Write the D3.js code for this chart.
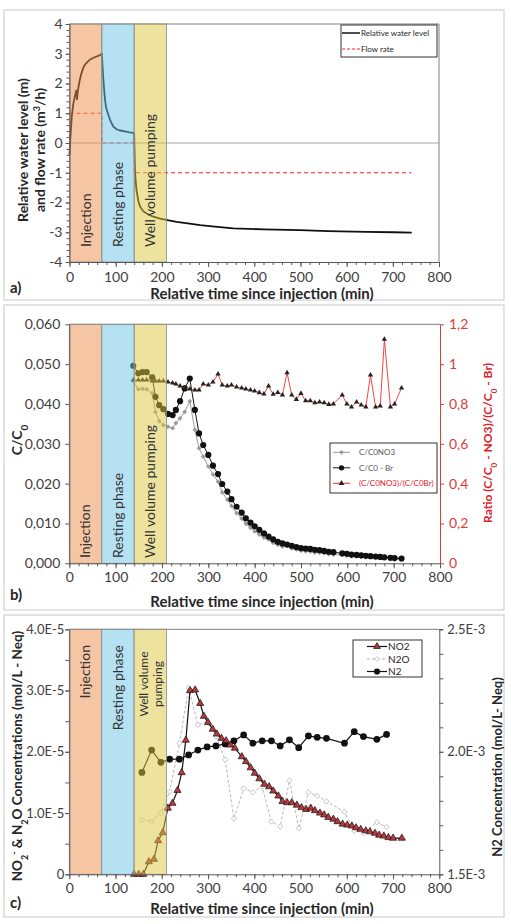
<!DOCTYPE html>
<html lang="en">
<head>
<meta charset="utf-8" />
<title>Push-pull test</title>
<script src="https://cdnjs.cloudflare.com/ajax/libs/d3/7.8.5/d3.min.js"></script>
<style>
  body { margin: 0; background: #fff; }
  svg text { font-family: Lato, "Open Sans", sans-serif; fill: #262626; }
  .tick text { font-size: 14px; fill: #404040; }
  .tick line { stroke: #595959; }
  .domain { stroke: #595959; }
  .title { font-weight: bold; font-size: 13px; }
  .phase { font-size: 14px; fill: #333; }
  .legend text { font-size: 8px; }
</style>
</head>
<body>
<script>
const width = 511;
const height = 924;

// phases of the test (min)
const phaseNames = ["Injection", "Resting phase", "Well volume pumping"];
const phaseStart = [0, 70, 140];
const phaseEnd = [70, 140, 210];
const phaseColors = ["#ee8d4a", "#6cc3e8", "#dcc63e"];

const xTicks = [0, 100, 200, 300, 400, 500, 600, 700, 800];

// a) water level and flow rate
const levelTime = [0, 2, 5, 8, 12, 15, 16, 18, 22, 26, 31, 36, 44, 50, 56, 62, 66, 70, 73, 76, 79, 84, 88, 95, 102, 110, 120, 130, 138, 140, 142, 145, 149, 153, 160, 167, 180, 196, 215, 232, 260, 283, 320, 355, 420, 499, 560, 643, 700, 741];
const levelValue = [-0.4, 0.2, 0.9, 1.3, 1.6, 1.78, 1.45, 1.75, 2.1, 2.35, 2.57, 2.68, 2.8, 2.85, 2.89, 2.93, 2.96, 3.0, 2.2, 1.6, 1.2, 0.95, 0.77, 0.55, 0.46, 0.42, 0.39, 0.36, 0.34, 0.3, -1.02, -1.58, -1.95, -2.14, -2.3, -2.37, -2.47, -2.54, -2.6, -2.65, -2.71, -2.76, -2.82, -2.87, -2.9, -2.93, -2.96, -2.99, -3.0, -3.01];
const flowTime = [0, 70, 70, 140, 140, 740];
const flowValue = [1, 1, 0, 0, -1, -1];
const aYTicks = [-4, -3, -2, -1, 0, 1, 2, 3, 4];
const aYLabels = ["-4", "-3", "-2", "-1", "0", "1", "2", "3", "4"];

// b) breakthrough curves
const bTime = [138, 149, 158, 167, 179, 186, 194, 203, 213, 223, 230, 239, 249, 260, 271, 280, 289, 300, 310, 321, 330, 341, 350, 361, 372, 381, 391, 400, 410, 420, 430, 440, 450, 460, 470, 480, 490, 500, 510, 520, 530, 540, 550, 560, 570, 589, 599, 609, 620, 630, 640, 650, 661, 671, 680, 693, 702, 717];
const brValue = [0.0496, 0.0477, 0.0480, 0.0480, 0.0467, 0.0418, 0.0397, 0.0387, 0.0375, 0.0372, 0.0385, 0.0407, 0.0439, 0.0464, 0.0385, 0.0326, 0.0297, 0.0272, 0.0245, 0.0224, 0.0199, 0.0180, 0.0161, 0.0142, 0.0127, 0.0113, 0.0102, 0.0093, 0.0084, 0.0075, 0.0067, 0.0060, 0.0054, 0.0050, 0.0047, 0.0044, 0.0041, 0.0038, 0.0037, 0.0036, 0.0034, 0.0033, 0.0031, 0.0029, 0.0028, 0.0025, 0.0024, 0.0022, 0.0021, 0.0020, 0.0019, 0.0018, 0.0017, 0.0016, 0.0015, 0.0014, 0.0013, 0.0012];
const no3Value = [0.0458, 0.0437, 0.0438, 0.0437, 0.0427, 0.0380, 0.0357, 0.0347, 0.0343, 0.0339, 0.0352, 0.0364, 0.0380, 0.0407, 0.0335, 0.0289, 0.0268, 0.0243, 0.0223, 0.0205, 0.0178, 0.0160, 0.0144, 0.0126, 0.0112, 0.0099, 0.0089, 0.0080, 0.0072, 0.0064, 0.0060, 0.0051, 0.0046, 0.0042, 0.0045, 0.0037, 0.0034, 0.0032, 0.0030, 0.0029, 0.0027, 0.0027, 0.0025, 0.0023, 0.0022, 0.0021, 0.0019, 0.0017, 0.0017, 0.0016, 0.0015, 0.0017, 0.0013, 0.0013, 0.0017, 0.0011, 0.0010, 0.0011];
const ratioValue = [0.92, 0.92, 0.92, 0.92, 0.915, 0.915, 0.915, 0.915, 0.91, 0.905, 0.90, 0.89, 0.88, 0.875, 0.87, 0.87, 0.90, 0.895, 0.91, 0.95, 0.895, 0.89, 0.895, 0.885, 0.88, 0.875, 0.87, 0.865, 0.857, 0.85, 0.89, 0.849, 0.858, 0.845, 0.957, 0.845, 0.823, 0.853, 0.816, 0.816, 0.806, 0.81, 0.806, 0.798, 0.80, 0.845, 0.80, 0.785, 0.81, 0.795, 0.785, 0.945, 0.785, 0.79, 1.125, 0.785, 0.80, 0.88];
const bLeftTicks = [0, 0.01, 0.02, 0.03, 0.04, 0.05, 0.06];
const bLeftLabels = ["0,000", "0,010", "0,020", "0,030", "0,040", "0,050", "0,060"];
const bRightTicks = [0, 0.2, 0.4, 0.6, 0.8, 1, 1.2];
const bRightLabels = ["0", "0,2", "0,4", "0,6", "0,8", "1", "1,2"];

// c) nitrogen species
const no2Time = [140, 150, 160, 172, 183, 192, 202, 213, 223, 234, 243, 252, 261, 272, 283, 291, 300, 310, 319, 329, 339, 348, 358, 373, 382, 392, 401, 411, 422, 432, 441, 452, 461, 471, 481, 492, 502, 512, 522, 531, 542, 551, 560, 571, 580, 591, 601, 611, 620, 630, 641, 650, 661, 670, 680, 690, 700, 719];
const no2Value = [0, 0, 0, 2.06e-6, 2.45e-6, 5.5e-6, 6.8e-6, 1.08e-5, 1.16e-5, 1.37e-5, 1.66e-5, 2.19e-5, 3.0e-5, 3.01e-5, 2.79e-5, 2.58e-5, 2.48e-5, 2.37e-5, 2.29e-5, 2.22e-5, 2.18e-5, 2.11e-5, 2.06e-5, 1.92e-5, 1.84e-5, 1.74e-5, 1.65e-5, 1.56e-5, 1.47e-5, 1.43e-5, 1.36e-5, 1.28e-5, 1.19e-5, 1.17e-5, 1.17e-5, 1.13e-5, 1.09e-5, 1.06e-5, 1.08e-5, 1.04e-5, 1.0e-5, 9.7e-6, 9.3e-6, 9.0e-6, 8.6e-6, 8.2e-6, 8.05e-6, 7.9e-6, 7.6e-6, 7.35e-6, 7.1e-6, 6.95e-6, 6.7e-6, 6.4e-6, 6.25e-6, 6.0e-6, 5.9e-6, 5.9e-6];
const gasTime = [157, 178, 198, 217, 238, 258, 278, 298, 317, 337, 356, 377, 397, 417, 437, 456, 476, 496, 517, 536, 556, 595, 616, 636, 665, 686];
const n2oValue = [8.9e-6, 8.6e-6, 1.0e-5, 1.35e-5, 2.14e-5, 3.04e-5, 2.44e-5, 2.48e-5, 2.25e-5, 1.87e-5, 9.1e-6, 1.4e-5, 1.34e-5, 1.43e-5, 8.6e-6, 7.8e-6, 1.53e-5, 7.5e-6, 1.34e-5, 1.28e-5, 1.19e-5, 1.02e-5, 7.1e-6, 6.7e-6, 8.5e-6, 7.7e-6];
const n2Value = [1.916e-3, 2.007e-3, 1.957e-3, 1.97e-3, 1.97e-3, 1.987e-3, 2.007e-3, 2.02e-3, 2.024e-3, 2.032e-3, 2.045e-3, 2.069e-3, 2.035e-3, 2.045e-3, 2.045e-3, 2.024e-3, 2.049e-3, 2.017e-3, 2.065e-3, 2.059e-3, 2.055e-3, 2.035e-3, 2.082e-3, 2.062e-3, 2.051e-3, 2.071e-3];
const cLeftTicks = [0, 1e-5, 2e-5, 3e-5, 4e-5];
const cLeftLabels = ["0", "1.0E-5", "2.0E-5", "3.0E-5", "4.0E-5"];
const cRightTicks = [1.5e-3, 2.0e-3, 2.5e-3];
const cRightLabels = ["1.5E-3", "2.0E-3", "2.5E-3"];

const svg = d3.select("body").append("svg")
  .attr("width", width)
  .attr("height", height)
  .attr("viewBox", [0, 0, width, height]);

// panel frames
[[4, 10, 500, 290], [4, 305, 500, 305], [4, 615, 500, 302]].forEach(([x, y, w, h]) => {
  svg.append("rect").attr("x", x).attr("y", y).attr("width", w).attr("height", h)
    .attr("fill", "#fff").attr("stroke", "#d0d0d0").attr("stroke-width", 1.2);
});

function drawSeries(g, times, values, x, y, o) {
  const pts = d3.zip(times, values);
  g.append("path").datum(pts)
    .attr("fill", "none")
    .attr("stroke", o.stroke)
    .attr("stroke-width", o.width || 1)
    .attr("stroke-dasharray", o.dash || null)
    .attr("d", d3.line().x(d => x(d[0])).y(d => y(d[1])));
  if (o.symbol) {
    g.append("g").selectAll("path").data(pts).join("path")
      .attr("transform", d => `translate(${x(d[0])},${y(d[1])})${o.rotate ? " rotate(45)" : ""}`)
      .attr("d", d3.symbol(o.symbol, o.size))
      .attr("fill", o.fill)
      .attr("stroke", o.markerStroke || "none")
      .attr("stroke-width", 0.7);
  }
}

function drawPhases(g, x, top, bottom) {
  g.append("g").selectAll("rect").data(d3.zip(phaseStart, phaseEnd, phaseColors)).join("rect")
    .attr("x", d => x(d[0]))
    .attr("y", top)
    .attr("width", d => x(d[1]) - x(d[0]))
    .attr("height", bottom - top)
    .attr("fill", d => d[2])
    .attr("fill-opacity", 0.5)
    .attr("stroke", "#8c8c8c")
    .attr("stroke-width", 0.8);
}

function xAxis(g, x, y, pad) {
  g.append("g").attr("transform", `translate(0,${y})`)
    .call(d3.axisBottom(x).tickValues(d3.range(0, 801, 20)).tickSize(3).tickFormat(""))
    .call(a => a.select(".domain").remove());
  g.append("g").attr("transform", `translate(0,${y})`)
    .call(d3.axisBottom(x).tickValues(xTicks).tickSize(5).tickSizeOuter(0).tickPadding(pad));
}

function vText(g, x, y, anchor, cls) {
  return g.append("text")
    .attr("class", cls)
    .attr("transform", `translate(${x},${y}) rotate(-90)`)
    .attr("text-anchor", anchor)
    .attr("dy", "0.35em");
}

function xTitle(g, y, letter, ly) {
  g.append("text").attr("class", "title").attr("x", 262).attr("y", y).attr("dy", "0.35em")
    .attr("text-anchor", "middle").style("font-size", "15px").text("Relative time since injection (min)");
  g.append("text").attr("class", "title").attr("x", 10).attr("y", ly).attr("dy", "0.35em")
    .style("font-size", "15px").text(letter);
}

// ---------- a) ----------
{
  const g = svg.append("g");
  const x = d3.scaleLinear([0, 800], [69.5, 439]);
  const y = d3.scaleLinear([-4, 4], [262, 24]);

  g.append("line").attr("x1", x(0)).attr("x2", x(800)).attr("y1", y(0)).attr("y2", y(0))
    .attr("stroke", "#a6a6a6");
  g.append("path").attr("d", `M${x(0)},${y(4)}H${x(800)}V${y(-4)}`)
    .attr("fill", "none").attr("stroke", "#7f7f7f");

  drawSeries(g, flowTime, flowValue, x, y, { stroke: "#ff2020", dash: "4,3", width: 1.2 });
  drawSeries(g, levelTime, levelValue, x, y, { stroke: "#111", width: 1.8 });
  drawPhases(g, x, y(4), y(-4));

  g.append("g").attr("transform", `translate(${x(0)},0)`)
    .call(d3.axisLeft(y).tickValues(d3.range(-4, 4.01, 0.2)).tickSize(3).tickFormat(""))
    .call(a => a.select(".domain").remove());
  g.append("g").attr("transform", `translate(${x(0)},0)`)
    .call(d3.axisLeft(y).tickValues(aYTicks).tickFormat((d, i) => aYLabels[i]).tickSize(4).tickSizeOuter(0).tickPadding(3));
  xAxis(g, x, y(-4), 5);

  phaseNames.forEach((n, i) => {
    vText(g, x((phaseStart[i] + phaseEnd[i]) / 2), 247, "start", "phase").text(n);
  });

  const t = vText(g, 31, 150, "middle", "title").attr("dy", null).style("font-size", "14px");
  t.append("tspan").attr("x", 0).attr("dy", "-0.2em").text("Relative water level (m)");
  const t2 = t.append("tspan").attr("x", 0).attr("dy", "1.2em").text("and flow rate (m");
  t2.append("tspan").attr("baseline-shift", "super").style("font-size", "9px").text("3");
  t.append("tspan").text("/h)");

  xTitle(g, 294, "a)", 288);

  const lg = g.append("g").attr("class", "legend");
  lg.append("rect").attr("x", 341).attr("y", 25).attr("width", 96).attr("height", 32)
    .attr("fill", "#fff").attr("stroke", "#333");
  lg.append("line").attr("x1", 342).attr("x2", 360).attr("y1", 33).attr("y2", 33).attr("stroke", "#111").attr("stroke-width", 1.5);
  lg.append("line").attr("x1", 342).attr("x2", 360).attr("y1", 49).attr("y2", 49).attr("stroke", "#ff2020").attr("stroke-dasharray", "3,2");
  lg.append("text").attr("x", 361).attr("y", 33).attr("dy", "0.35em").text("Relative water level");
  lg.append("text").attr("x", 361).attr("y", 49).attr("dy", "0.35em").text("Flow rate");
}

// ---------- b) ----------
{
  const g = svg.append("g");
  const x = d3.scaleLinear([0, 800], [69.3, 440]);
  const y = d3.scaleLinear([0, 0.06], [563.3, 324.3]);
  const yr = d3.scaleLinear([0, 1.2], [563.3, 324.3]);

  g.append("line").attr("x1", x(0)).attr("x2", x(800)).attr("y1", y(0.06)).attr("y2", y(0.06))
    .attr("stroke", "#7f7f7f");

  drawSeries(g, bTime, no3Value, x, y, { stroke: "#9a9a9a", width: 1, symbol: d3.symbolSquare, size: 11, rotate: true, fill: "#9a9a9a" });
  drawSeries(g, bTime, brValue, x, y, { stroke: "#111", width: 1, symbol: d3.symbolCircle, size: 30, fill: "#111" });
  drawSeries(g, bTime, ratioValue, x, yr, { stroke: "#f03030", width: 0.9, symbol: d3.symbolTriangle, size: 12, fill: "#222" });
  drawPhases(g, x, y(0.06), y(0));

  g.append("g").attr("transform", `translate(${x(0)},0)`)
    .call(d3.axisLeft(y).tickValues(bLeftTicks).tickFormat((d, i) => bLeftLabels[i]).tickSize(4).tickSizeOuter(0).tickPadding(5));
  g.append("g").attr("transform", `translate(${x(800)},0)`)
    .call(d3.axisRight(yr).tickValues(bRightTicks).tickFormat((d, i) => bRightLabels[i]).tickSize(4).tickSizeOuter(0).tickPadding(5))
    .call(a => a.selectAll(".domain, .tick line").style("stroke", "#e03c3c"))
    .call(a => a.selectAll(".tick text").style("fill", "#e03c3c"));
  xAxis(g, x, y(0), 3.5);

  phaseNames.forEach((n, i) => {
    vText(g, x((phaseStart[i] + phaseEnd[i]) / 2), 558, "start", "phase").text(n);
  });

  const tl = vText(g, 17, 440, "middle", "title").style("font-size", "14px");
  tl.append("tspan").text("C/C");
  tl.append("tspan").attr("baseline-shift", "sub").style("font-size", "10px").text("0");

  const tr = vText(g, 488, 443, "middle", "title").style("fill", "#e0202a").style("font-size", "12px");
  tr.append("tspan").text("Ratio (C/C");
  tr.append("tspan").attr("baseline-shift", "sub").style("font-size", "8px").text("0");
  tr.append("tspan").text(" - NO3)/(C/C");
  tr.append("tspan").attr("baseline-shift", "sub").style("font-size", "8px").text("0");
  tr.append("tspan").text(" - Br)");

  xTitle(g, 601.7, "b)", 595);

  const lg = g.append("g").attr("class", "legend");
  lg.append("rect").attr("x", 330).attr("y", 443).attr("width", 107).attr("height", 50)
    .attr("fill", "#fff").attr("stroke", "#333");
  const items = [
    ["C/C0NO3", "#9a9a9a", d3.symbolSquare, 11, true, "#9a9a9a", "#555"],
    ["C/C0 - Br", "#111", d3.symbolCircle, 22, false, "#111", "#555"],
    ["(C/C0NO3)/(C/C0Br)", "#f03030", d3.symbolTriangle, 14, false, "#222", "#e0202a"]
  ];
  items.forEach(([label, stroke, sym, size, rot, fill, tc], i) => {
    const yy = 452.3 + i * 15.5;
    lg.append("line").attr("x1", 333).attr("x2", 350).attr("y1", yy).attr("y2", yy).attr("stroke", stroke);
    lg.append("path").attr("transform", `translate(341.5,${yy})${rot ? " rotate(45)" : ""}`)
      .attr("d", d3.symbol(sym, size)).attr("fill", fill);
    lg.append("text").attr("x", 359).attr("y", yy).attr("dy", "0.35em").style("fill", tc).text(label);
  });
}

// ---------- c) ----------
{
  const g = svg.append("g");
  const x = d3.scaleLinear([0, 800], [69.3, 439.3]);
  const y = d3.scaleLinear([0, 4e-5], [874.3, 629.3]);
  const yr = d3.scaleLinear([1.5e-3, 2.5e-3], [874.3, 629.3]);

  g.append("line").attr("x1", x(0)).attr("x2", x(800)).attr("y1", y(4e-5)).attr("y2", y(4e-5))
    .attr("stroke", "#7f7f7f");

  drawSeries(g, gasTime, n2oValue, x, y, { stroke: "#b0b0b0", width: 0.9, dash: "3,2", symbol: d3.symbolSquare, size: 14, rotate: true, fill: "#fff", markerStroke: "#b0b0b0" });
  drawSeries(g, gasTime, n2Value, x, yr, { stroke: "#111", width: 1.2, symbol: d3.symbolCircle, size: 36, fill: "#111" });
  drawSeries(g, no2Time, no2Value, x, y, { stroke: "#111", width: 1.2, symbol: d3.symbolTriangle, size: 22, fill: "#b8383c", markerStroke: "#111" });
  drawPhases(g, x, y(4e-5), y(0));

  g.append("g").attr("transform", `translate(${x(0)},0)`)
    .call(d3.axisLeft(y).tickValues(d3.range(0, 4.01e-5, 0.5e-5)).tickSize(4).tickFormat(""))
    .call(a => a.select(".domain").remove());
  g.append("g").attr("transform", `translate(${x(0)},0)`)
    .call(d3.axisLeft(y).tickValues(cLeftTicks).tickFormat((d, i) => cLeftLabels[i]).tickSize(4).tickSizeOuter(0).tickPadding(1))
    .call(a => a.selectAll(".tick text").style("font-size", "13px"));
  g.append("g").attr("transform", `translate(${x(800)},0)`)
    .call(d3.axisRight(yr).tickValues(d3.range(1.5e-3, 2.501e-3, 0.1e-3)).tickSize(4).tickFormat(""))
    .call(a => a.select(".domain").remove());
  g.append("g").attr("transform", `translate(${x(800)},0)`)
    .call(d3.axisRight(yr).tickValues(cRightTicks).tickFormat((d, i) => cRightLabels[i]).tickSize(4).tickSizeOuter(0).tickPadding(4))
    .call(a => a.selectAll(".tick text").style("font-size", "13px"));
  xAxis(g, x, y(0), 4);

  vText(g, x(35), 645, "end", "phase").text(phaseNames[0]);
  vText(g, x(105), 645, "end", "phase").text(phaseNames[1]);
  const w = vText(g, x(175), 684, "middle", "phase").attr("dy", null).style("font-size", "12px");
  w.append("tspan").attr("x", 0).attr("dy", "-0.2em").text("Well volume");
  w.append("tspan").attr("x", 0).attr("dy", "1.2em").text("pumping");

  const tl = vText(g, 17, 756, "middle", "title").style("font-size", "13.5px");
  tl.append("tspan").text("NO");
  tl.append("tspan").attr("baseline-shift", "sub").style("font-size", "9px").text("2");
  tl.append("tspan").attr("baseline-shift", "super").style("font-size", "9px").text("-");
  tl.append("tspan").text(" & N");
  tl.append("tspan").attr("baseline-shift", "sub").style("font-size", "9px").text("2");
  tl.append("tspan").text("O Concentrations (mol/L - Neq)");

  vText(g, 497, 767, "middle", "title").text("N2 Concentration (mol/L- Neq)");

  xTitle(g, 908.3, "c)", 903);

  const lg = g.append("g").attr("class", "legend");
  lg.append("rect").attr("x", 353).attr("y", 640).attr("width", 69).attr("height", 37)
    .attr("fill", "#fff").attr("stroke", "#333");
  const items = [
    ["NO2", "#111", null, d3.symbolTriangle, 20, false, "#b8383c", "#111"],
    ["N2O", "#b0b0b0", "3,2", d3.symbolSquare, 12, true, "#fff", "#b0b0b0"],
    ["N2", "#111", null, d3.symbolCircle, 30, false, "#111", "none"]
  ];
  items.forEach(([label, stroke, dash, sym, size, rot, fill, ms], i) => {
    const yy = 646.5 + i * 12.5;
    lg.append("line").attr("x1", 367).attr("x2", 387).attr("y1", yy).attr("y2", yy)
      .attr("stroke", stroke).attr("stroke-dasharray", dash).attr("stroke-width", 1.2);
    lg.append("path").attr("transform", `translate(377,${yy})${rot ? " rotate(45)" : ""}`)
      .attr("d", d3.symbol(sym, size)).attr("fill", fill).attr("stroke", ms).attr("stroke-width", 0.7);
    lg.append("text").attr("x", 388).attr("y", yy).attr("dy", "0.35em").style("font-size", "10px").text(label);
  });
}
</script>
</body>
</html>
